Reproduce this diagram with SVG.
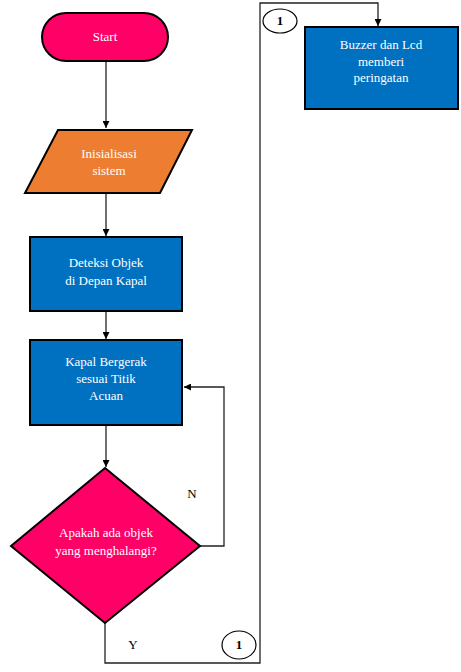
<svg xmlns="http://www.w3.org/2000/svg" width="461" height="672" viewBox="0 0 461 672">
<defs>
<marker id="ah" viewBox="0 0 10 10" refX="10" refY="5" markerWidth="7" markerHeight="7" orient="auto" markerUnits="userSpaceOnUse">
<path d="M0,0 L10,5 L0,10 z" fill="#000"/>
</marker>
<style>
.shape{stroke:#000;stroke-width:2}
.pink{fill:#FF0066}
.orange{fill:#ED7D31}
.blue{fill:#0070C0}
.t{font-family:"Liberation Serif","Times New Roman",serif;font-size:13px;fill:#fff;text-anchor:middle}
.tb{font-family:"Liberation Serif","Times New Roman",serif;font-size:13px;fill:#000;text-anchor:middle}
.c{fill:none;stroke:#222;stroke-width:1.3}
.circ{fill:#fff;stroke:#000;stroke-width:1.2}
</style>
</defs>
<rect width="461" height="672" fill="#fff"/>
<g id="connectors">
<path class="c" d="M106,61 V128" marker-end="url(#ah)"/>
<path class="c" d="M106,193 V236" marker-end="url(#ah)"/>
<path class="c" d="M106,311 V339" marker-end="url(#ah)"/>
<path class="c" d="M106,425 V467" marker-end="url(#ah)"/>
<path class="c" d="M200,546 H224 V387 H184" marker-end="url(#ah)"/>
<path class="c" d="M105,623 V663 H260 V3 H378 V26" marker-end="url(#ah)"/>
</g>
<g id="start">
<rect class="shape pink" x="42" y="13" width="126" height="48" rx="24"/>
<text class="t" x="105" y="41">Start</text>
</g>
<g id="init">
<polygon class="shape orange" points="58,130 192,130 160,193 25,193"/>
<text class="t" x="109" y="158">Inisialisasi</text>
<text class="t" x="109" y="175">sistem</text>
</g>
<g id="deteksi">
<rect class="shape blue" x="30" y="237" width="152" height="74"/>
<text class="t" x="106" y="267">Deteksi Objek</text>
<text class="t" x="106" y="285">di Depan Kapal</text>
</g>
<g id="kapal">
<rect class="shape blue" x="30" y="340" width="152" height="85"/>
<text class="t" x="106" y="366">Kapal Bergerak</text>
<text class="t" x="106" y="383">sesuai Titik</text>
<text class="t" x="106" y="400">Acuan</text>
</g>
<g id="decision">
<polygon class="shape pink" points="105,468 200,546 105,623 11,546"/>
<text class="t" x="106" y="537" font-size="12">Apakah ada objek</text>
<text class="t" x="106" y="555" font-size="12">yang menghalangi?</text>
</g>
<g id="labelN"><text class="tb" x="192" y="498">N</text></g>
<g id="labelY"><text class="tb" x="133" y="649">Y</text></g>
<g id="conn1-bottom">
<ellipse class="circ" cx="239" cy="645" rx="17" ry="14"/>
<text class="tb" x="239" y="649" font-size="12" font-weight="bold">1</text>
</g>
<g id="conn1-top">
<ellipse class="circ" cx="280" cy="21" rx="17" ry="12"/>
<text class="tb" x="280" y="25" font-size="12" font-weight="bold">1</text>
</g>
<g id="buzzer">
<rect class="shape blue" x="305" y="27" width="153" height="82"/>
<text class="t" x="381" y="49" font-size="12">Buzzer dan Lcd</text>
<text class="t" x="381" y="66" font-size="12">memberi</text>
<text class="t" x="381" y="82" font-size="12">peringatan</text>
</g>
</svg>
